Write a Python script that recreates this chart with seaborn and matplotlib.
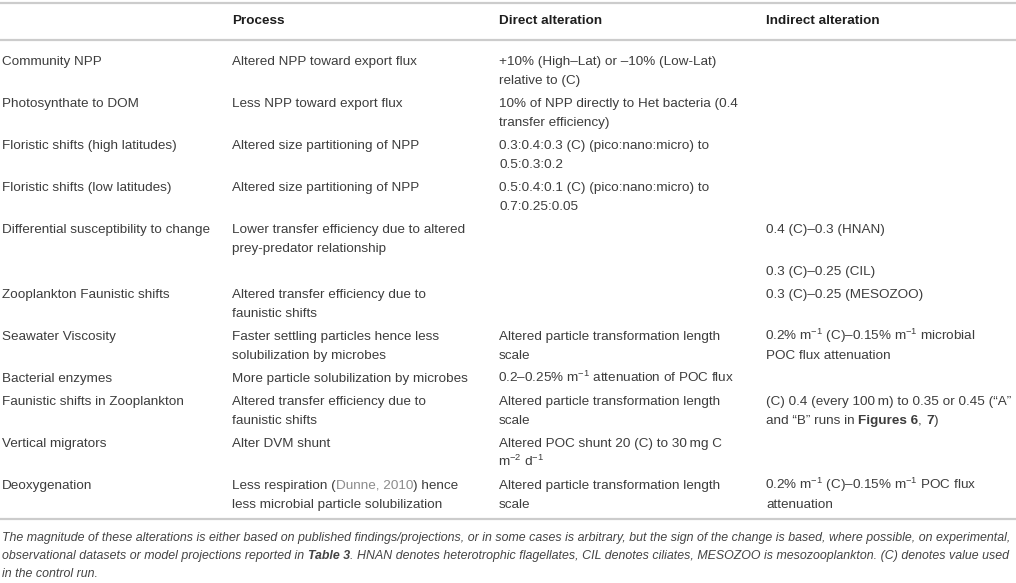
import re
import matplotlib
matplotlib.use("Agg")
import matplotlib.pyplot as plt
import seaborn as sns

sns.set_theme(style="white")
plt.rcParams['font.family'] = ['Liberation Sans', 'DejaVu Sans']
plt.rcParams['mathtext.fontset'] = 'custom'
plt.rcParams['mathtext.rm'] = 'Liberation Sans'
plt.rcParams['mathtext.default'] = 'regular'

# table content
headers = ["", "Process", "Direct alteration", "Indirect alteration"]

factors = [
    ["Community NPP"],
    ["Photosynthate to DOM"],
    ["Floristic shifts (high latitudes)"],
    ["Floristic shifts (low latitudes)"],
    ["Differential susceptibility to change"],
    [],
    ["Zooplankton Faunistic shifts"],
    ["Seawater Viscosity"],
    ["Bacterial enzymes"],
    ["Faunistic shifts in Zooplankton"],
    ["Vertical migrators"],
    ["Deoxygenation"],
]

processes = [
    ["Altered NPP toward export flux"],
    ["Less NPP toward export flux"],
    ["Altered size partitioning of NPP"],
    ["Altered size partitioning of NPP"],
    ["Lower transfer efficiency due to altered", "prey-predator relationship"],
    [],
    ["Altered transfer efficiency due to", "faunistic shifts"],
    ["Faster settling particles hence less", "solubilization by microbes"],
    ["More particle solubilization by microbes"],
    ["Altered transfer efficiency due to", "faunistic shifts"],
    ["Alter DVM shunt"],
    ["Less respiration (<g>Dunne, 2010</g>) hence", "less microbial particle solubilization"],
]

direct = [
    ["+10% (High\u2013Lat) or \u201310% (Low-Lat)", "relative to (C)"],
    ["10% of NPP directly to Het bacteria (0.4", "transfer efficiency)"],
    ["0.3:0.4:0.3 (C) (pico:nano:micro) to", "0.5:0.3:0.2"],
    ["0.5:0.4:0.1 (C) (pico:nano:micro) to", "0.7:0.25:0.05"],
    [],
    [],
    [],
    ["Altered particle transformation length", "scale"],
    ["0.2\u20130.25% m$^{-1}$ attenuation of POC flux"],
    ["Altered particle transformation length", "scale"],
    ["Altered POC shunt 20 (C) to 30\u2009mg C", "m$^{-2}$ d$^{-1}$"],
    ["Altered particle transformation length", "scale"],
]

indirect = [
    [],
    [],
    [],
    [],
    ["0.4 (C)\u20130.3 (HNAN)"],
    ["0.3 (C)\u20130.25 (CIL)"],
    ["0.3 (C)\u20130.25 (MESOZOO)"],
    ["0.2% m$^{-1}$ (C)\u20130.15% m$^{-1}$ microbial", "POC flux attenuation"],
    [],
    ["(C) 0.4 (every 100\u2009m) to 0.35 or 0.45 (\u201cA\u201d",
     "and \u201cB\u201d runs in <b>Figures 6</b>, <b>7</b>)"],
    [],
    ["0.2% m$^{-1}$ (C)\u20130.15% m$^{-1}$ POC flux", "attenuation"],
]

caption = [
    "The magnitude of these alterations is either based on published findings/projections, "
    "or in some cases is arbitrary, but the sign of the change is based, where possible, on experimental,",
    "observational datasets or model projections reported in <b>Table 3</b>. HNAN denotes heterotrophic "
    "flagellates, CIL denotes ciliates, MESOZOO is mesozooplankton. (C) denotes value used",
    "in the control run.",
]

# layout (pixels)
W, H = 1016, 583
col_x = [2, 232, 499, 766]
FS = 9.7
CAP_FS = 8.9
TEXT_C = "#3d3d3d"
HEAD_C = "#1e1e1e"
LINK_C = "#8c8c8c"
RULE_C = "#cccccc"
LINE_H = 19
ROW_GAP = 23

fig = plt.figure(figsize=(W / 100, H / 100), dpi=100)
ax = fig.add_axes([0, 0, 1, 1])
ax.set_xlim(0, W)
ax.set_ylim(H, 0)
ax.axis("off")
renderer = fig.canvas.get_renderer()


def text_width(s, **kw):
    t = ax.text(0, 0, s, **kw)
    w = t.get_window_extent(renderer).width
    t.remove()
    return w


def draw_rich(x, y, line, fs=FS, style="normal", base_color=TEXT_C):
    # split into styled runs and place them one after another
    parts = re.split(r"(<b>|</b>|<g>|</g>)", line)
    weight, color = "normal", base_color
    for p in parts:
        if p == "<b>":
            weight = "bold"
        elif p == "</b>":
            weight = "normal"
        elif p == "<g>":
            color = LINK_C
        elif p == "</g>":
            color = base_color
        elif p:
            kw = dict(fontsize=fs, style=style, fontweight=weight)
            lead = len(p) - len(p.lstrip(" "))
            if lead:
                x += lead * (text_width("| |", **kw) - text_width("||", **kw))
                p = p.lstrip(" ")
            shift = -1 if "$" in p else 0  # mathtext sits a pixel right
            ax.text(x + shift, y, p, color=color, ha="left", va="baseline", **kw)
            x += text_width(p + "|", **kw) - text_width("|", **kw)


# rules
ax.axhline(3, color=RULE_C, lw=1.6)
ax.axhline(39.5, color=RULE_C, lw=1.6)
ax.axhline(519, color=RULE_C, lw=1.6)

BASE = 4  # center -> baseline offset

# header
for cx, h in zip(col_x, headers):
    if h:
        ax.text(cx, 20 + BASE, h, fontsize=FS, color=HEAD_C, fontweight="bold",
                ha="left", va="baseline")

# body
y = 61
for cells in zip(factors, processes, direct, indirect):
    n = max(len(c) for c in cells)
    for cx, cell in zip(col_x, cells):
        for i, line in enumerate(cell):
            draw_rich(cx, y + BASE + i * LINE_H, line)
    y += (n - 1) * LINE_H + ROW_GAP

# caption
for i, line in enumerate(caption):
    draw_rich(2, 537 + BASE + i * 18, line, fs=CAP_FS, style="italic", base_color="#444444")

fig.savefig("out.png", dpi=100)
